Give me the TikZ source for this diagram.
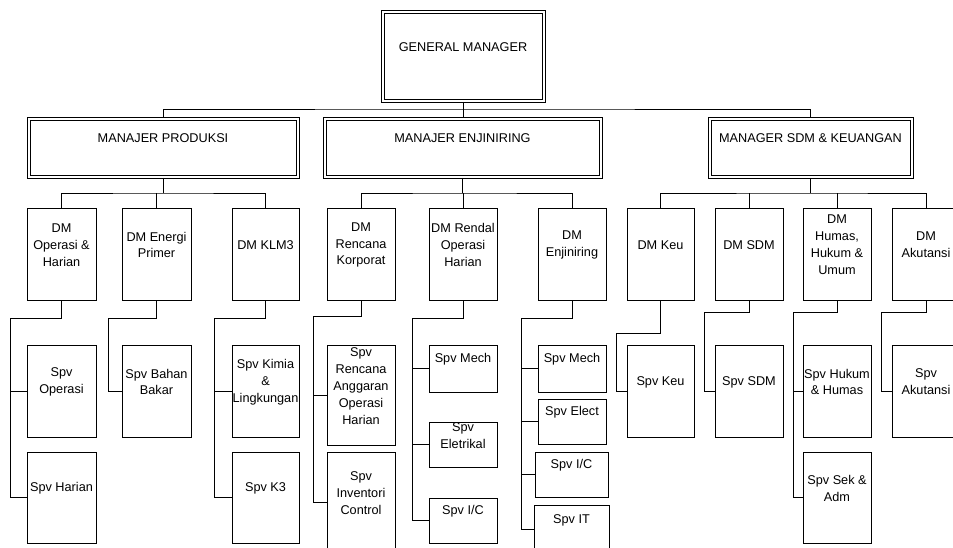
\documentclass[tikz,border=0pt]{standalone}
\usepackage{fontspec}
\setmainfont{Liberation Sans}
\begin{document}
\begin{tikzpicture}[x=1pt,y=-1pt,
  box/.style={draw,line width=0.8pt,inner sep=0pt,outer sep=0pt},
  mgr/.style={draw,line width=0.8pt,inner sep=0pt,outer sep=0pt},
  inner/.style={line width=0.8pt},
  txt/.style={inner sep=0pt,align=center,font=\fontsize{12.7pt}{16.9pt}\selectfont},
  conn/.style={line width=0.9pt}]
\clip (0,0) rectangle (953,548);
\fill[white] (0,0) rectangle (953,548);
% top managers
\node[mgr,minimum width=164pt,minimum height=92pt] (gm) at (463,56) {};
\node[txt] (gmt) at ([yshift=9pt]gm.center) {GENERAL MANAGER};
\node[mgr,minimum width=272pt,minimum height=61pt] (prod) at (163,147.5) {};
\node[txt] (prodt) at ([yshift=9.5pt]prod.center) {MANAJER PRODUKSI};
\node[mgr,minimum width=279pt,minimum height=61pt] (enj) at (462.5,147.5) {};
\node[txt] (enjt) at ([yshift=9.5pt]enj.center) {MANAJER ENJINIRING};
\node[mgr,minimum width=205pt,minimum height=61pt] (sdm) at (810.5,147.5) {};
\node[txt] (sdmt) at ([yshift=9.5pt]sdm.center) {MANAGER SDM \& KEUANGAN};
\foreach \m in {gm,prod,enj,sdm}
  \draw[inner] ([shift={(3pt,-3pt)}]\m.north west) rectangle ([shift={(-3pt,3pt)}]\m.south east);
% DM level
\newcommand{\bx}[6]{%
  \node[box,minimum width=#4pt,minimum height=#5pt] (#1) at (#2,#3) {};
  \node[txt] (#1t) at ([yshift=9pt]#1.center) {#6};}
\bx{dmop}{61.5}{254}{69}{92}{DM\\Operasi \&\\Harian}
\bx{dmen}{156.5}{254}{69}{92}{DM Energi\\Primer}
\bx{dmklm}{265.5}{254}{67}{92}{DM KLM3}
\bx{dmrk}{361}{254}{68}{92}{DM\\Rencana\\Korporat}
\bx{dmrd}{463}{254}{68}{92}{DM Rendal\\Operasi\\Harian}
\bx{dmenj}{572}{254}{68}{92}{DM\\Enjiniring}
\bx{dmkeu}{660.5}{254}{67}{92}{DM Keu}
\bx{dmsdm}{749}{254}{68}{92}{DM SDM}
\bx{dmhum}{837}{254}{68}{92}{DM\\Humas,\\Hukum \&\\Umum}
\bx{dmak}{926}{254}{68}{92}{DM\\Akutansi}
% Spv level
\bx{spop}{61.5}{391}{69}{92}{Spv\\Operasi}
\bx{sphar}{61.5}{497.5}{69}{91}{Spv Harian}
\bx{spbb}{156.5}{391}{69}{92}{Spv Bahan\\Bakar}
\bx{spkim}{265.5}{391}{67}{92}{Spv Kimia\\\&\\Lingkungan}
\bx{spk}{265.5}{497.5}{67}{91}{Spv K3}
\bx{sprag}{361}{395}{68}{100}{Spv\\Rencana\\Anggaran\\Operasi\\Harian}
\bx{spinv}{361}{502}{68}{100}{Spv\\Inventori\\Control}
\bx{sprmech}{463}{368.5}{68}{47}{Spv Mech}
\bx{sprel}{463}{444.5}{68}{45}{Spv\\Eletrikal}
\bx{spric}{463}{520.5}{68}{45}{Spv I/C}
\bx{spemech}{572}{368.5}{68}{47}{Spv Mech}
\bx{speel}{572}{421.5}{68}{45}{Spv Elect}
\bx{speic}{571.5}{474.5}{73}{45}{Spv I/C}
\bx{speit}{571.5}{529}{75}{48}{Spv IT}
\bx{spkeu}{660.5}{391}{67}{92}{Spv Keu}
\bx{spsdm}{749}{391}{68}{92}{Spv SDM}
\bx{sphuk}{837}{391}{68}{92}{Spv Hukum\\\& Humas}
\bx{spsek}{837}{497.5}{68}{91}{Spv Sek \&\\Adm}
\bx{spak}{926}{391}{68}{92}{Spv\\Akutansi}
% GM to managers
\draw[conn] (prod.north) |- (gm.south |- 0,109) -| (sdm.north);
\draw[conn] (gm.south) -- (gm.south |- enj.north);
% managers to DMs
\draw[conn] (dmop.north) |- (prod.south |- 0,193) -| (dmklm.north);
\draw[conn] (prod.south) -- (prod.south |- 0,193);
\draw[conn] (dmen.north) -- (dmen.north |- 0,193);
\draw[conn] (dmrk.north) |- (enj.south |- 0,193) -| (dmenj.north);
\draw[conn] (enj.south) -- (enj.south |- 0,193);
\draw[conn] (dmrd.north) -- (dmrd.north |- 0,193);
\draw[conn] (dmkeu.north) |- (sdm.south |- 0,193) -| (dmak.north);
\draw[conn] (sdm.south) -- (sdm.south |- 0,193);
\draw[conn] (dmsdm.north) -- (dmsdm.north |- 0,193);
\draw[conn] (dmhum.north) -- (dmhum.north |- 0,193);
% DMs to Spv
\draw[conn] (dmop.south) -- (dmop.south |- 0,318) -| ([xshift=-17pt]sphar.west) -- (sphar.west);
\draw[conn] (spop.west) -- ++(-17,0);
\draw[conn] (dmen.south) -- (dmen.south |- 0,318) -| ([xshift=-14pt]spbb.west) -- (spbb.west);
\draw[conn] (dmklm.south) -- (dmklm.south |- 0,318) -| ([xshift=-18pt]spk.west) -- (spk.west);
\draw[conn] (spkim.west) -- ++(-18,0);
\draw[conn] (dmrk.south) -- (dmrk.south |- 0,316) -| ([xshift=-14pt]spinv.west) -- (spinv.west);
\draw[conn] (sprag.west) -- ++(-14,0);
\draw[conn] (dmrd.south) -- (dmrd.south |- 0,318) -| ([xshift=-17pt]spric.west) -- (spric.west);
\draw[conn] (sprmech.west) -- ++(-17,0);
\draw[conn] (sprel.west) -- ++(-17,0);
\draw[conn] (dmenj.south) -- (dmenj.south |- 0,318) -| ([xshift=-13pt]speit.west) -- (speit.west);
\draw[conn] (spemech.west) -- ++(-17,0);
\draw[conn] (speel.west) -- ++(-17,0);
\draw[conn] (speic.west) -- ++(-14.5,0);
\draw[conn] (dmkeu.south) -- (dmkeu.south |- 0,333) -| ([xshift=-11pt]spkeu.west) -- (spkeu.west);
\draw[conn] (dmsdm.south) -- (dmsdm.south |- 0,312) -| ([xshift=-11pt]spsdm.west) -- (spsdm.west);
\draw[conn] (dmhum.south) -- (dmhum.south |- 0,312) -| ([xshift=-10pt]spsek.west) -- (spsek.west);
\draw[conn] (sphuk.west) -- ++(-10,0);
\draw[conn] (dmak.south) -- (dmak.south |- 0,312) -| ([xshift=-11pt]spak.west) -- (spak.west);
\end{tikzpicture}
\end{document}
